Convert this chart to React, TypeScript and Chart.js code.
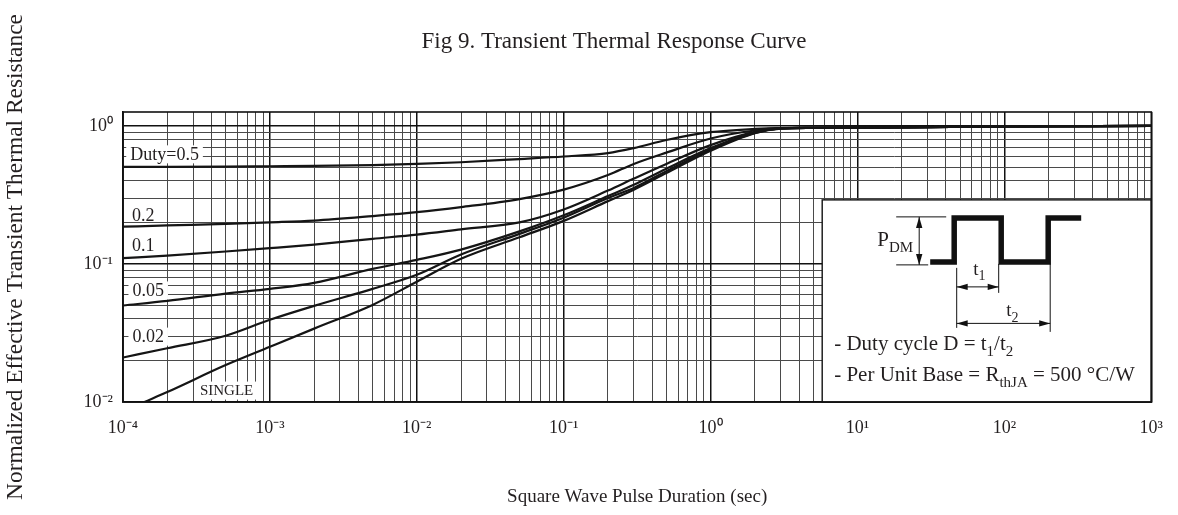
import React, { useEffect, useRef } from 'react';
import { Chart, registerables } from 'chart.js';

Chart.register(...registerables);

const FONT = '"Liberation Serif", "Times New Roman", serif';
const INK = '#231f20';

const chartTitle = 'Fig 9. Transient Thermal Response Curve';
const xAxisTitle = 'Square Wave Pulse Duration (sec)';
const yAxisTitle = 'Normalized Effective Transient Thermal Resistance';

const xDecades = [1e-4, 1e-3, 1e-2, 1e-1, 1e0, 1e1, 1e2, 1e3];
const xTickLabels = ['10⁻⁴', '10⁻³', '10⁻²', '10⁻¹', '10⁰', '10¹', '10²', '10³'];
const yDecades = [1e-2, 1e-1, 1e0];
const yTickLabels = ['10⁻²', '10⁻¹', '10⁰'];
const yMin = 0.01;
const yMax = 1.26;

// pulse duration (sec)
const pulseDuration = [1e-4, 2e-4, 5e-4, 1e-3, 2e-3, 5e-3, 1e-2, 2e-2, 5e-2, 0.1, 0.2, 0.3, 0.5, 1, 2, 3, 5, 10, 100, 1000];
const singlePulseDuration = [1.4e-4, 2e-4, 5e-4, 1e-3, 2e-3, 5e-3, 1e-2, 2e-2, 5e-2, 0.1, 0.2, 0.3, 0.5, 1, 2, 3, 5, 10, 100, 1000];

// normalized effective transient thermal resistance
const duty050 = [0.505, 0.505, 0.507, 0.51, 0.513, 0.52, 0.53, 0.545, 0.575, 0.6, 0.635, 0.69, 0.79, 0.9, 0.95, 0.965, 0.968, 0.972, 0.99, 1.0];
const duty020 = [0.186, 0.19, 0.195, 0.2, 0.206, 0.222, 0.237, 0.258, 0.295, 0.345, 0.44, 0.53, 0.64, 0.81, 0.925, 0.962, 0.968, 0.972, 0.99, 1.0];
const duty010 = [0.11, 0.115, 0.123, 0.13, 0.138, 0.152, 0.163, 0.178, 0.2, 0.248, 0.34, 0.415, 0.53, 0.725, 0.905, 0.96, 0.968, 0.972, 0.99, 1.0];
const duty005 = [0.05, 0.054, 0.061, 0.066, 0.073, 0.092, 0.107, 0.127, 0.172, 0.225, 0.31, 0.375, 0.49, 0.69, 0.895, 0.958, 0.968, 0.972, 0.99, 1.0];
const duty002 = [0.021, 0.0245, 0.0302, 0.0394, 0.0497, 0.066, 0.0834, 0.117, 0.165, 0.216, 0.3, 0.355, 0.47, 0.675, 0.89, 0.957, 0.968, 0.972, 0.99, 1.0];
const single = [0.01, 0.0118, 0.0185, 0.0251, 0.034, 0.0505, 0.0743, 0.109, 0.156, 0.205, 0.285, 0.345, 0.455, 0.66, 0.885, 0.956, 0.968, 0.972, 0.99, 1.0];

const seriesNames = ['Duty=0.5', '0.2', '0.1', '0.05', '0.02', 'SINGLE'];

// curve label anchors (pulse duration, resistance)
const curveLabelText = ['Duty=0.5', '0.2', '0.1', '0.05', '0.02', 'SINGLE'];
const curveLabelT = [1.12e-4, 1.15e-4, 1.15e-4, 1.16e-4, 1.16e-4, 3.34e-4];
const curveLabelZ = [0.627, 0.227, 0.136, 0.0648, 0.030, 0.0122];
const curveLabelBox = [true, false, false, true, true, true];

// inset upper-left corner in data units
const insetT = 5.75;
const insetZ = 0.291;

function gridValues(decades: number[]) {
  const out: number[] = [];
  for (let i = 0; i < decades.length - 1; i++) {
    for (let m = 1; m <= 9; m++) out.push(m * decades[i]);
  }
  out.push(decades[decades.length - 1]);
  return out;
}

function isDecade(v: number) {
  const l = Math.log10(v);
  return Math.abs(l - Math.round(l)) < 1e-6;
}

function labelFor(v: number, decades: number[], labels: string[]) {
  for (let i = 0; i < decades.length; i++) {
    if (Math.abs(v - decades[i]) / decades[i] < 1e-6) return labels[i];
  }
  return '';
}

function drawRich(ctx: CanvasRenderingContext2D, parts: [string, boolean][], x: number, y: number, size: number) {
  let cx = x;
  for (const [text, sub] of parts) {
    const s = sub ? Math.round(size * 0.72) : size;
    ctx.font = `${s}px ${FONT}`;
    ctx.fillText(text, cx, sub ? y + size * 0.28 : y);
    cx += ctx.measureText(text).width;
  }
}

function arrowHead(ctx: CanvasRenderingContext2D, tx: number, ty: number, fx: number, fy: number) {
  const dx = tx - fx, dy = ty - fy;
  const len = Math.hypot(dx, dy) || 1;
  const ux = dx / len, uy = dy / len;
  const px = -uy, py = ux;
  const L = 11, W = 3.2;
  ctx.beginPath();
  ctx.moveTo(tx, ty);
  ctx.lineTo(tx - ux * L + px * W, ty - uy * L + py * W);
  ctx.lineTo(tx - ux * L - px * W, ty - uy * L - py * W);
  ctx.closePath();
  ctx.fill();
}

function dimLine(ctx: CanvasRenderingContext2D, x1: number, y1: number, x2: number, y2: number) {
  ctx.beginPath();
  ctx.moveTo(x1, y1);
  ctx.lineTo(x2, y2);
  ctx.stroke();
  arrowHead(ctx, x1, y1, x2, y2);
  arrowHead(ctx, x2, y2, x1, y1);
}

function line(ctx: CanvasRenderingContext2D, x1: number, y1: number, x2: number, y2: number) {
  ctx.beginPath();
  ctx.moveTo(x1, y1);
  ctx.lineTo(x2, y2);
  ctx.stroke();
}

const overlayPlugin = {
  id: 'overlay',
  afterDatasetsDraw(chart: any) {
    const { ctx, chartArea: ca, scales } = chart;
    const xs = scales.x, ys = scales.y;
    ctx.save();

    // chart title
    ctx.fillStyle = INK;
    ctx.textAlign = 'center';
    ctx.textBaseline = 'middle';
    ctx.font = `23px ${FONT}`;
    ctx.fillText(chartTitle, 614, 42);

    // curve labels
    ctx.textBaseline = 'middle';
    ctx.textAlign = 'left';
    curveLabelText.forEach((txt, i) => {
      const size = txt === 'SINGLE' ? 15 : 18;
      ctx.font = `${size}px ${FONT}`;
      const px = xs.getPixelForValue(curveLabelT[i]);
      const py = ys.getPixelForValue(curveLabelZ[i]);
      const w = ctx.measureText(txt).width;
      if (curveLabelBox[i]) {
        ctx.fillStyle = '#fff';
        ctx.fillRect(px - 4, py - 8.5, w + 8, 18);
      }
      ctx.fillStyle = INK;
      ctx.fillText(txt, px, py + 1);
    });

    // inset
    const L = xs.getPixelForValue(insetT);
    const T = ys.getPixelForValue(insetZ);
    ctx.fillStyle = '#fff';
    ctx.fillRect(L, T, ca.right - L, ca.bottom - T);
    ctx.strokeStyle = '#111';
    ctx.lineWidth = 1.4;
    ctx.strokeRect(L, T, ca.right - L, ca.bottom - T);

    // waveform
    ctx.strokeStyle = '#111';
    ctx.lineWidth = 5.5;
    ctx.lineJoin = 'miter';
    ctx.lineCap = 'butt';
    ctx.beginPath();
    ctx.moveTo(L + 108, T + 62);
    ctx.lineTo(L + 132, T + 62);
    ctx.lineTo(L + 132, T + 18);
    ctx.lineTo(L + 179, T + 18);
    ctx.lineTo(L + 179, T + 62);
    ctx.lineTo(L + 226, T + 62);
    ctx.lineTo(L + 226, T + 18);
    ctx.lineTo(L + 259, T + 18);
    ctx.stroke();

    // dimension lines
    ctx.lineWidth = 1;
    ctx.fillStyle = '#111';
    line(ctx, L + 74, T + 17, L + 124, T + 17);
    line(ctx, L + 74, T + 65, L + 106, T + 65);
    dimLine(ctx, L + 97, T + 17, L + 97, T + 65);
    line(ctx, L + 134.5, T + 68, L + 134.5, T + 128);
    line(ctx, L + 176.5, T + 64, L + 176.5, T + 93);
    line(ctx, L + 228, T + 64, L + 228, T + 132);
    dimLine(ctx, L + 134.5, T + 87, L + 176.5, T + 87);
    dimLine(ctx, L + 134.5, T + 123.5, L + 228, T + 123.5);

    ctx.fillStyle = INK;
    ctx.textBaseline = 'alphabetic';
    ctx.textAlign = 'left';
    drawRich(ctx, [['P', false], ['DM', true]], L + 55, T + 46, 21);
    drawRich(ctx, [['t', false], ['1', true]], L + 151, T + 75, 19);
    drawRich(ctx, [['t', false], ['2', true]], L + 184, T + 116.5, 19);
    drawRich(ctx, [['- Duty cycle D = t', false], ['1', true], ['/t', false], ['2', true]], L + 12, T + 150.5, 21);
    drawRich(ctx, [['- Per Unit Base = R', false], ['thJA', true], [' = 500 °C/W', false]], L + 12, T + 181, 21);

    // frame
    ctx.strokeStyle = '#111';
    ctx.lineWidth = 1.6;
    ctx.strokeRect(ca.left, ca.top, ca.right - ca.left, ca.bottom - ca.top);
    ctx.restore();
  },
};

export default function App() {
  const canvasRef = useRef<HTMLCanvasElement | null>(null);

  useEffect(() => {
    const canvas = canvasRef.current;
    if (!canvas) return;
    const seriesValues = [duty050, duty020, duty010, duty005, duty002, single];
    const datasets = seriesValues.map((vals, i) => {
      const xsrc = seriesNames[i] === 'SINGLE' ? singlePulseDuration : pulseDuration;
      return {
        label: seriesNames[i],
        data: vals.map((v, j) => ({ x: xsrc[j], y: v })),
        showLine: true,
        borderColor: '#151515',
        borderWidth: 2.2,
        pointRadius: 0,
        pointHoverRadius: 0,
        fill: false,
        cubicInterpolationMode: 'monotone' as const,
      };
    });
    const xGrid = gridValues(xDecades);
    const yGrid = gridValues(yDecades);
    const gridColor = (c: any) => (c.tick && isDecade(c.tick.value) ? '#111' : '#4a4a4a');
    const gridWidth = (c: any) => (c.tick && isDecade(c.tick.value) ? 1.5 : 1);

    const chart = new Chart(canvas, {
      type: 'scatter',
      data: { datasets },
      options: {
        animation: false,
        responsive: false,
        events: [],
        layout: { padding: { left: 0, right: 26, top: 112, bottom: 0 } },
        plugins: {
          legend: { display: false },
          tooltip: { enabled: false },
          title: { display: false },
        },
        scales: {
          x: {
            type: 'logarithmic',
            min: 1e-4,
            max: 1e3,
            afterBuildTicks: (s: any) => {
              s.ticks = xGrid.map((v) => ({ value: v }));
            },
            afterFit: (s: any) => {
              s.height = 113;
            },
            ticks: {
              autoSkip: false,
              maxRotation: 0,
              padding: 15,
              color: INK,
              font: { family: FONT, size: 18 },
              callback: (v: any) => labelFor(Number(v), xDecades, xTickLabels),
            },
            grid: { drawTicks: false, color: gridColor, lineWidth: gridWidth },
            border: { display: true, color: '#111', width: 1.6 },
            title: {
              display: true,
              text: xAxisTitle,
              color: INK,
              font: { family: FONT, size: 19 },
              padding: { top: 0, bottom: 7 },
            },
          },
          y: {
            type: 'logarithmic',
            min: yMin,
            max: yMax,
            afterBuildTicks: (s: any) => {
              s.ticks = yGrid.map((v) => ({ value: v }));
            },
            afterFit: (s: any) => {
              s.width = 123;
            },
            ticks: {
              autoSkip: false,
              padding: 10,
              color: INK,
              font: { family: FONT, size: 18 },
              callback: (v: any) => labelFor(Number(v), yDecades, yTickLabels),
            },
            grid: { drawTicks: false, color: gridColor, lineWidth: gridWidth },
            border: { display: true, color: '#111', width: 1.6 },
            title: {
              display: true,
              text: yAxisTitle,
              color: INK,
              font: { family: FONT, size: 23.4 },
              padding: { top: 2, bottom: 0 },
            },
          },
        },
      },
      plugins: [overlayPlugin],
    });
    return () => chart.destroy();
  }, []);

  return (
    <div style={{ position: 'absolute', left: 0, top: 0, width: 1178, height: 515, background: '#fff' }}>
      <canvas ref={canvasRef} width={1178} height={515} style={{ width: 1178, height: 515, display: 'block' }} />
    </div>
  );
}
